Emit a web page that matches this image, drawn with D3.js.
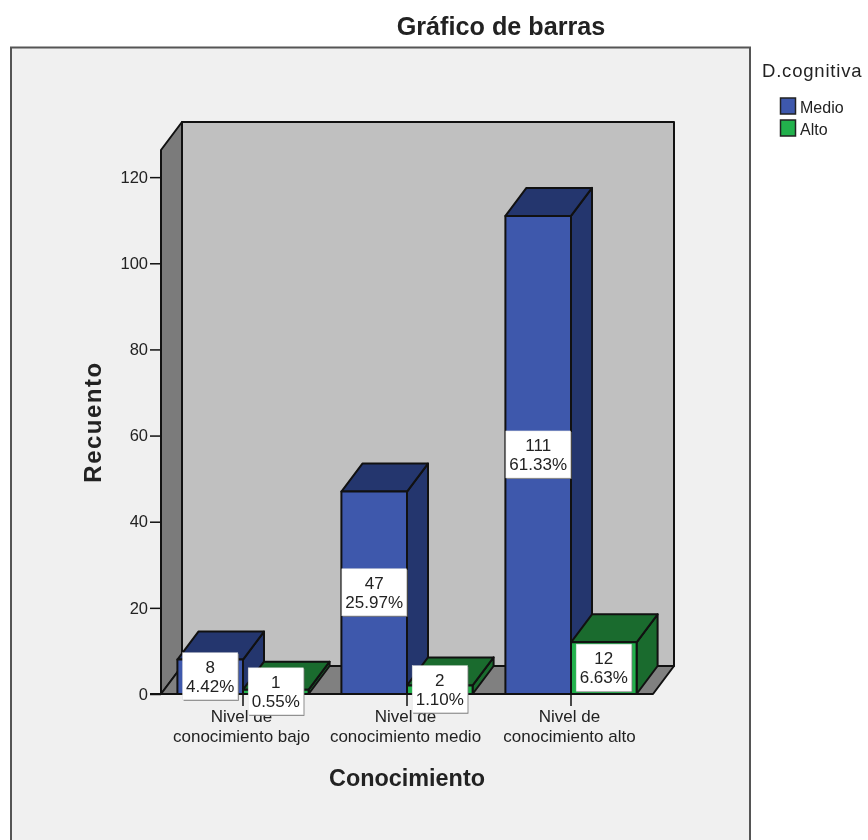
<!DOCTYPE html>
<html><head><meta charset="utf-8">
<script src="https://cdn.jsdelivr.net/npm/d3@7"></script>
<style>html,body{margin:0;padding:0;background:#fff}svg{display:block;filter:blur(0.35px)}text{font-family:"Liberation Sans",Arial,sans-serif;fill:#222}</style>
</head><body><svg id="c" width="868" height="840"></svg>
<script>
const categories=[["Nivel de","conocimiento bajo"],["Nivel de","conocimiento medio"],["Nivel de","conocimiento alto"]];
const seriesNames=["Medio","Alto"];
const medio=[8,47,111];
const alto=[1,2,12];
const medioPct=["4.42%","25.97%","61.33%"];
const altoPct=["0.55%","1.10%","6.63%"];
const yTicks=[0,20,40,60,80,100,120];
const colors={Medio:{front:"#3e58ac",dark:"#24366e"},Alto:{front:"#22b14c",dark:"#1a6b2e"}};
const title="Gráfico de barras",xTitle="Conocimiento",yTitle="Recuento",legendTitle="D.cognitiva";

const svg=d3.select("#c");
const dx=21,dy=28;
const y=d3.scaleLinear().domain([0,126.3]).range([694,150]);
const x0=d3.scaleBand().domain(d3.range(3)).range([161,653]);
const x1=d3.scaleBand().domain(seriesNames).range([0,x0.bandwidth()]).paddingOuter(0.25).paddingInner(0);
const L=161,R=653,B=y(0),T=y.range()[1];
const path=p=>"M"+p.map(a=>a.join(",")).join("L")+"Z";
const wall={stroke:"#111","stroke-width":2,"stroke-linejoin":"round"};
function poly(pts,fill,g=svg){const e=g.append("path").attr("d",path(pts)).attr("fill",fill);for(const k in wall)e.attr(k,wall[k]);return e;}

svg.append("rect").attr("x",11).attr("y",47.5).attr("width",739).attr("height",830).attr("fill","#f0f0f0").attr("stroke","#555").attr("stroke-width",2);
svg.append("text").attr("x",501).attr("y",35).attr("text-anchor","middle").attr("font-size",25.2).attr("font-weight","bold").text(title);

poly([[L+dx,T-dy],[R+dx,T-dy],[R+dx,B-dy],[L+dx,B-dy]],"#c0c0c0");
poly([[L,T],[L+dx,T-dy],[L+dx,B-dy],[L,B]],"#7b7b7b");
poly([[L,B],[L+dx,B-dy],[R+dx,B-dy],[R,B]],"#808080");

const yAxis=d3.axisLeft(y).tickValues(yTicks).tickSize(11).tickPadding(2).tickFormat(d3.format("d"));
const ga=svg.append("g").attr("transform",`translate(${L},0)`).call(yAxis);
ga.select(".domain").remove();
ga.selectAll("line").attr("stroke","#111").attr("stroke-width",1.5);
ga.selectAll("text").attr("font-size",16.5);

const rows=[];
categories.forEach((c,i)=>{rows.push({i,s:"Medio",v:medio[i],p:medioPct[i]});rows.push({i,s:"Alto",v:alto[i],p:altoPct[i]});});
rows.forEach(d=>{
  const a=x0(d.i)+x1(d.s),w=x1.bandwidth(),b=a+w,t=y(d.v),c=colors[d.s];
  d.cx=a+w/2;d.cy=(t+B)/2;
  poly([[b,t],[b+dx,t-dy],[b+dx,B-dy],[b,B]],c.dark);
  poly([[a,t],[a+dx,t-dy],[b+dx,t-dy],[b,t]],c.dark);
  poly([[a,t],[b,t],[b,B],[a,B]],c.front);
});
svg.append("line").attr("x1",L-11).attr("x2",R).attr("y1",B).attr("y2",B).attr("stroke","#111").attr("stroke-width",2);
categories.forEach((c,i)=>{
  const xc=x0(i)+x0.bandwidth()/2;
  svg.append("line").attr("x1",xc).attr("x2",xc).attr("y1",B).attr("y2",B+12).attr("stroke","#111").attr("stroke-width",1.5);
  c.forEach((s,j)=>svg.append("text").attr("x",xc-1.5).attr("y",722+j*20).attr("text-anchor","middle").attr("font-size",17).text(s));
});
rows.forEach(d=>{
  const g=svg.append("g");
  const r=g.append("rect"),s=g.append("rect");
  g.append("text").attr("x",d.cx).attr("y",d.cy-4).attr("text-anchor","middle").attr("font-size",17).text(d.v);
  const t2=g.append("text").attr("x",d.cx).attr("y",d.cy+15).attr("text-anchor","middle").attr("font-size",17).text(d.p);
  const w=t2.node().getComputedTextLength()+7;
  r.attr("x",d.cx-w/2+1).attr("y",d.cy-23).attr("width",w).attr("height",47).attr("fill","#777");
  s.attr("x",d.cx-w/2).attr("y",d.cy-24).attr("width",w).attr("height",47).attr("fill","#fff").attr("stroke","#ddd").attr("stroke-width",.5);
});
svg.append("text").attr("transform","translate(101,422) rotate(-90)").attr("text-anchor","middle").attr("font-size",24).attr("letter-spacing",1.5).attr("font-weight","bold").text(yTitle);
svg.append("text").attr("x",407).attr("y",786).attr("text-anchor","middle").attr("font-size",23.4).attr("font-weight","bold").text(xTitle);
svg.append("text").attr("x",762).attr("y",77).attr("font-size",18.5).attr("letter-spacing",0.8).text(legendTitle);
seriesNames.forEach((s,i)=>{
  svg.append("rect").attr("x",780.5).attr("y",98+i*22).attr("width",15).attr("height",16).attr("fill",colors[s].front).attr("stroke","#222").attr("stroke-width",1.5);
  svg.append("text").attr("x",800).attr("y",113+i*22).attr("font-size",16).text(s);
});
</script></body></html>
